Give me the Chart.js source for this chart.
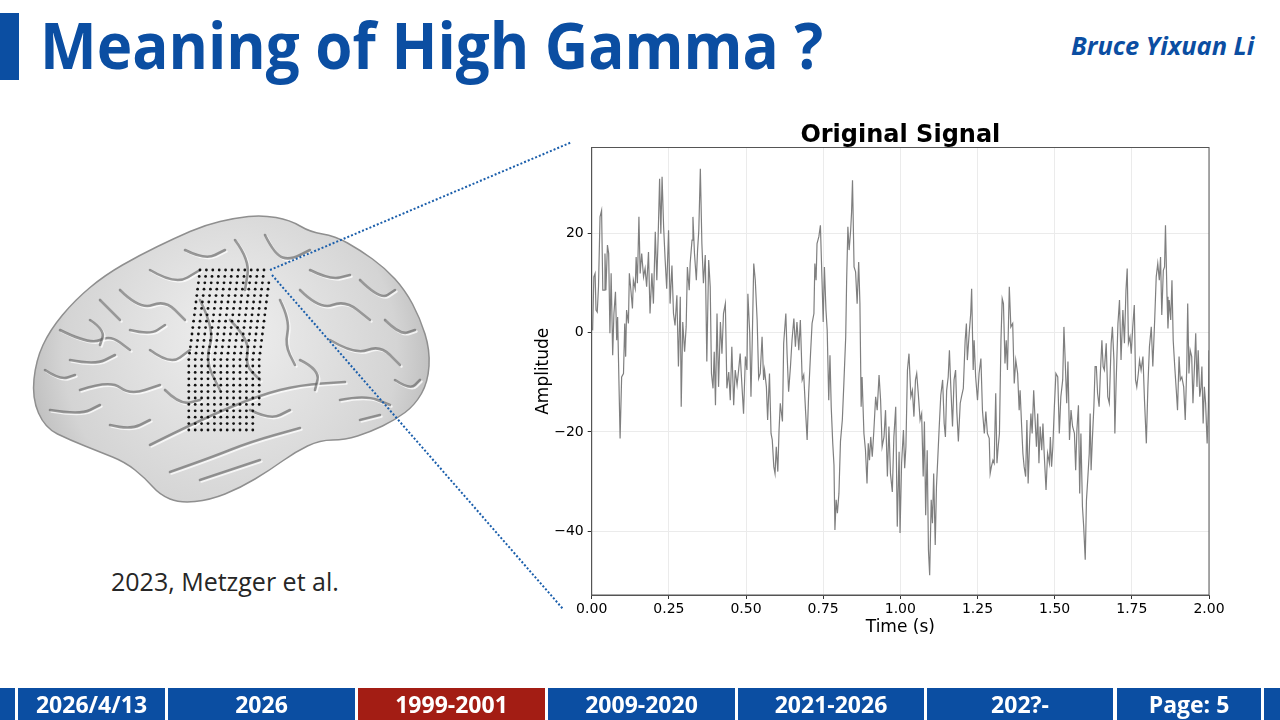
<!DOCTYPE html>
<html lang="en">
  <head>
    <meta charset="UTF-8" />
    <meta name="viewport" content="width=device-width, initial-scale=1.0" />
    <title>Meaning of High Gamma ?</title>
    <script src="https://cdn.jsdelivr.net/npm/chart.js@4.4.1/dist/chart.umd.min.js"></script>
    <style>
      body { margin: 0; width: 1280px; height: 720px; overflow: hidden; background: #fff; position: relative; font-family: "Open Sans", sans-serif; }
      .bar { position: absolute; left: 0; top: 13px; width: 19px; height: 67px; background: #0b4ea2; }
      .title { position: absolute; left: 40px; top: 12px; font-size: 65px; line-height: 1; font-weight: 700; color: #0b4ea2; white-space: nowrap; transform-origin: left top; }
      .author { position: absolute; right: 26px; top: 28px; font-size: 25px; line-height: 34px; font-weight: 700; font-style: italic; color: #0b4ea2; white-space: nowrap; transform-origin: right center; }
      .caption { position: absolute; left: 111px; top: 565px; font-size: 25px; line-height: 32px; color: #262626; white-space: nowrap; }
      #brain { position: absolute; left: 0; top: 0; }
      .chart-box { position: absolute; left: 520px; top: 100px; width: 720px; height: 545px; }
      #links { position: absolute; left: 0; top: 0; pointer-events: none; }
      .seg { position: absolute; top: 688px; height: 32px; line-height: 32px; background: #0b4ea2; color: #fff; font-weight: 700; font-size: 23px; text-align: center; white-space: nowrap; }
      .seg.red { background: #a31d14; }
    </style>
  </head>

  <body>
    <div class="bar"></div>
    <div class="title" id="title">Meaning of High Gamma ?</div>
    <div class="author" id="author">Bruce Yixuan Li</div>

    <canvas id="brain" width="520" height="560"></canvas>
    <div class="caption">2023, Metzger et al.</div>

    <div class="chart-box"><canvas id="signal_chart"></canvas></div>

    <svg id="links" width="1280" height="720">
      <line x1="270" y1="270" x2="572" y2="142" stroke="#1a5eab" stroke-width="2" stroke-dasharray="2 2" />
      <line x1="272" y1="275" x2="563" y2="609" stroke="#1a5eab" stroke-width="2" stroke-dasharray="2 2" />
    </svg>

    <div class="seg" style="left:0;width:15px"></div>
    <div class="seg" style="left:18px;width:147px">2026/4/13</div>
    <div class="seg" style="left:168px;width:187px">2026</div>
    <div class="seg red" style="left:358px;width:187px">1999-2001</div>
    <div class="seg" style="left:548px;width:187px">2009-2020</div>
    <div class="seg" style="left:738px;width:186px">2021-2026</div>
    <div class="seg" style="left:927px;width:186px">202?-</div>
    <div class="seg" style="left:1117px;width:144px">Page: 5</div>
    <div class="seg" style="left:1264px;width:16px"></div>

    <script>
      // signal (time in s, amplitude)
      const sampleTimes = [
        0.003,0.007,0.011,0.014,0.018,0.022,0.027,0.032,0.036,0.040,
        0.043,0.046,0.051,0.055,0.059,0.063,0.068,0.072,0.077,0.081,
        0.084,0.092,0.097,0.103,0.107,0.110,0.113,0.119,0.122,0.127,
        0.132,0.135,0.141,0.144,0.148,0.153,0.157,0.162,0.168,0.173,
        0.178,0.184,0.189,0.195,0.200,0.206,0.211,0.215,0.220,0.224,
        0.228,0.233,0.238,0.243,0.249,0.254,0.260,0.265,0.270,0.276,
        0.281,0.287,0.290,0.295,0.301,0.306,0.310,0.316,0.319,0.325,
        0.328,0.333,0.339,0.343,0.347,0.352,0.357,0.362,0.368,0.373,
        0.379,0.384,0.388,0.393,0.397,0.401,0.406,0.411,0.417,0.422,
        0.427,0.433,0.438,0.444,0.449,0.454,0.460,0.465,0.471,0.476,
        0.481,0.487,0.492,0.498,0.503,0.506,0.512,0.516,0.520,0.525,
        0.530,0.536,0.541,0.546,0.552,0.557,0.560,0.566,0.570,0.576,
        0.581,0.585,0.590,0.594,0.598,0.603,0.607,0.611,0.618,0.622,
        0.629,0.633,0.638,0.644,0.649,0.655,0.660,0.665,0.671,0.676,
        0.682,0.687,0.693,0.698,0.703,0.709,0.714,0.720,0.723,0.727,
        0.730,0.736,0.741,0.746,0.750,0.754,0.759,0.763,0.768,0.772,
        0.776,0.781,0.785,0.788,0.792,0.796,0.801,0.806,0.812,0.817,
        0.823,0.826,0.830,0.834,0.839,0.842,0.845,0.850,0.855,0.860,
        0.865,0.869,0.873,0.876,0.882,0.887,0.892,0.896,0.900,0.904,
        0.909,0.914,0.920,0.925,0.931,0.936,0.941,0.947,0.952,0.958,
        0.963,0.968,0.974,0.979,0.985,0.990,0.996,0.999,1.004,1.010,
        1.014,1.018,1.023,1.028,1.034,1.039,1.044,1.049,1.053,1.058,
        1.064,1.069,1.074,1.078,1.082,1.087,1.091,1.095,1.100,1.104,
        1.108,1.113,1.117,1.121,1.126,1.131,1.137,1.142,1.146,1.150,
        1.155,1.159,1.163,1.169,1.174,1.179,1.183,1.188,1.194,1.198,
        1.204,1.210,1.214,1.217,1.223,1.228,1.231,1.236,1.239,1.244,
        1.250,1.255,1.261,1.266,1.272,1.277,1.282,1.288,1.291,1.295,
        1.300,1.304,1.309,1.313,1.317,1.321,1.326,1.330,1.334,1.339,
        1.343,1.347,1.353,1.358,
        1.364,1.369,1.374,1.380,1.385,1.388,1.393,1.397,1.401,1.406,
        1.410,1.414,1.419,1.423,1.427,1.432,1.436,1.441,1.445,1.449,
        1.453,1.458,1.462,1.466,1.472,1.477,1.483,1.486,1.490,1.494,
        1.499,1.504,1.510,1.515,1.520,1.526,1.530,1.534,1.539,1.543,
        1.548,1.553,1.558,1.564,1.568,1.572,1.577,1.581,1.585,1.590,
        1.594,1.599,1.603,1.607,1.612,1.615,1.618,1.622,1.627,1.631,
        1.635,1.639,1.644,1.648,1.653,1.657,1.661,1.667,1.672,1.677,
        1.683,1.687,1.692,1.695,1.699,1.705,1.710,1.715,1.721,1.726,
        1.731,1.735,1.739,1.744,1.748,1.753,1.758,1.762,1.766,1.771,
        1.775,1.780,1.786,1.791,1.797,1.802,1.807,1.813,1.818,1.824,
        1.829,1.834,1.839,1.843,1.847,1.852,1.856,1.859,1.864,1.867,
        1.871,1.876,1.880,1.884,1.889,1.894,1.898,1.903,1.907,1.912,
        1.918,1.923,1.928,1.931,1.935,1.939,1.944,1.948,1.952,1.957,
        1.961,1.965,1.970,1.974,1.977,1.981,1.985,1.989,1.994,1.998,
        2.000
      ];
      const amplitude = [
        0.5,11.3,12.0,4.6,4.2,9.3,23.4,24.7,8.6,8.6,
        16.0,8.6,17.7,16.0,-0.1,12.0,-4.5,3.9,8.3,-1.5,
        3.2,-21.3,-8.9,-8.2,1.9,-4.8,4.6,1.9,12.0,8.6,
        4.9,10.6,8.9,15.3,10.0,23.4,12.0,16.0,11.3,13.0,
        9.3,16.3,3.9,12.0,5.9,20.4,10.6,18.7,31.1,20.0,
        31.5,21.4,14.7,8.9,20.7,5.9,13.6,3.9,1.5,7.6,
        -6.8,7.3,-14.9,2.2,-3.8,1.2,13.3,8.6,14.0,18.7,
        23.4,16.0,10.6,16.7,20.7,33.1,18.0,10.0,15.7,-5.8,
        14.7,9.3,-8.2,-11.2,-3.8,-14.6,3.9,-10.9,2.2,-4.2,
        3.9,5.9,-11.2,-7.9,-13.6,-2.8,-14.6,-7.5,-10.5,-7.5,
        -4.2,-10.9,-16.3,-4.8,-7.5,7.9,-0.1,-12.9,-2.1,14.0,
        10.6,2.6,-9.2,-8.2,-0.8,-9.5,-7.5,-10.9,-17.6,-8.2,
        -20.3,-21.6,-27.0,-28.4,-23.0,-28.0,-19.6,-14.2,-17.9,-2.1,
        3.9,-4.2,-11.9,-6.8,-1.5,2.9,-2.8,2.2,-3.5,2.6,
        -9.5,-8.5,-15.9,-21.6,-12.2,-4.2,1.9,3.9,14.0,10.6,
        18.0,19.4,21.7,11.0,2.2,13.3,4.6,0.5,-13.6,-4.5,
        -14.9,-22.3,-26.7,-39.8,-33.7,-36.4,-32.4,-21.9,-17.6,-10.2,
        -0.8,10.6,21.4,16.7,20.7,24.4,30.8,13.3,12.3,5.9,
        14.3,5.9,-14.9,-8.9,-20.3,-23.7,-30.4,-22.3,-25.7,-21.0,
        -25.0,-19.9,-12.9,-15.6,-8.5,-13.6,-23.0,-21.0,-15.6,-29.0,
        -18.9,-28.4,-32.1,-21.0,-14.9,-39.1,-24.0,-40.4,-26.3,-19.6,
        -27.3,-23.0,-7.5,-4.2,-12.9,-11.6,-16.9,-9.5,-8.2,-12.2,
        -17.6,-16.3,-29.0,-17.9,-36.8,-23.7,-43.8,-48.9,-33.7,-38.4,
        -28.4,-42.8,-31.0,-25.7,-18.9,-12.6,-9.5,-18.3,-21.0,-11.6,
        -8.9,-3.5,-10.2,-18.9,-9.5,-7.5,-15.9,-21.9,-14.2,-12.9,
        -11.2,-1.5,1.9,-5.5,-0.1,3.9,8.9,-7.5,-1.5,-8.9,
        -13.6,-8.2,-5.2,-15.6,-20.3,-15.9,-20.3,-21.3,-28.4,-27.0,
        -25.7,-26.3,-12.2,-26.3,-23.0,-20.3,-1.5,6.9,5.9,-6.2,
        -1.5,-7.5,9.3,1.2,
        1.9,-10.2,-5.5,-8.2,-15.6,-11.6,-18.9,-24.3,-27.0,-29.0,
        -17.6,-30.4,-21.6,-16.3,-20.3,-11.6,-16.9,-23.0,-16.3,-26.3,
        -18.9,-23.7,-18.3,-24.3,-31.7,-24.3,-26.3,-21.0,-27.0,-23.0,
        -14.9,-8.2,-8.9,-20.3,-12.9,-9.5,1.2,-5.5,-14.2,-5.8,
        -21.6,-15.6,-18.9,-20.3,-27.7,-19.6,-14.6,-32.4,-20.3,-35.1,
        -39.1,-45.8,-33.7,-29.7,-24.3,-16.3,-27.7,-21.6,-14.9,-6.8,
        -6.8,-12.2,-14.9,-8.2,-1.5,-6.8,-7.5,-2.1,-12.9,-14.2,
        -2.1,1.2,-5.5,-20.3,-10.2,1.9,6.6,-5.5,4.6,-2.1,
        8.6,13.0,-2.1,-0.8,-4.2,1.2,5.6,-9.5,-10.9,-8.2,
        -5.5,-7.5,-4.8,-13.6,-22.3,-10.9,-2.8,1.2,-6.8,2.6,
        11.3,14.0,10.6,15.3,3.6,12.6,13.3,21.7,7.3,0.9,
        6.6,2.6,10.6,-1.5,-6.8,-11.6,-15.6,-4.8,-9.5,-8.9,
        -10.9,-17.6,-6.8,5.9,-8.2,-3.5,-4.8,-14.2,-8.2,-0.1,
        -10.9,-3.5,-12.9,-10.9,-6.8,-18.3,-10.9,-14.2,-22.3,-14.9,
        -3.5
      ];
      const xTicks = [0, 0.25, 0.5, 0.75, 1.0, 1.25, 1.5, 1.75, 2.0];
      const yTicks = [-40, -20, 0, 20];
      const xRange = [0, 2];
      const yRange = [-52.9, 37.4];

      // fit the headline and the author name to their widths in the slide
      const titleEl = document.getElementById("title");
      titleEl.style.transform = "scaleX(" + (783 / titleEl.scrollWidth) + ")";
      const authorEl = document.getElementById("author");
      authorEl.style.transform = "scaleX(" + (183 / authorEl.scrollWidth) + ")";

      // plot frame + bold title over the plot area
      const framePlugin = {
        id: "frame",
        afterDraw(chart) {
          const a = chart.chartArea, c = chart.ctx;
          c.save();
          c.strokeStyle = "#555";
          c.lineWidth = 1;
          c.strokeRect(a.left, a.top, a.right - a.left, a.bottom - a.top);
          c.fillStyle = "#000";
          c.font = "bold 24px 'DejaVu Sans'";
          c.textAlign = "center";
          c.textBaseline = "alphabetic";
          c.fillText("Original Signal", (a.left + a.right) / 2, 42);
          c.restore();
        }
      };

      const tickFont = { family: "DejaVu Sans", size: 14 };
      const labelFont = { family: "DejaVu Sans", size: 17 };

      new Chart("signal_chart", {
        type: "line",
        data: {
          datasets: [
            {
              label: "Original Signal",
              data: sampleTimes.map((t, i) => ({ x: t, y: amplitude[i] })),
              borderColor: "#7f7f7f",
              borderWidth: 1.2,
              pointRadius: 0,
              tension: 0,
              fill: false
            }
          ]
        },
        options: {
          animation: false,
          responsive: true,
          maintainAspectRatio: false,
          layout: { padding: { top: 47.5, right: 31, left: 0, bottom: 0 } },
          plugins: { legend: { display: false }, tooltip: { enabled: false } },
          scales: {
            x: {
              type: "linear",
              min: xRange[0],
              max: xRange[1],
              afterBuildTicks: s => { s.ticks = xTicks.map(v => ({ value: v })); },
              afterFit: s => { s.height = 50; },
              grid: { color: "#ebebeb", tickColor: "#333", tickLength: 4 },
              border: { color: "#555" },
              ticks: { color: "#000", font: tickFont, padding: 2, maxRotation: 0, autoSkip: false, callback: v => v.toFixed(2) },
              title: { display: true, text: "Time (s)", color: "#000", font: labelFont, padding: { top: 0, bottom: 7 } }
            },
            y: {
              min: yRange[0],
              max: yRange[1],
              afterBuildTicks: s => { s.ticks = yTicks.map(v => ({ value: v })); },
              afterFit: s => { s.width = 71.7; },
              grid: { color: "#ebebeb", tickColor: "#333", tickLength: 4 },
              border: { color: "#555" },
              ticks: { color: "#000", font: tickFont, padding: 4, callback: v => String(v).replace("-", "\u2212") },
              title: { display: true, text: "Amplitude", color: "#000", font: labelFont, padding: { top: 13, bottom: 0 } }
            }
          }
        },
        plugins: [framePlugin]
      });

      // rough brain sketch with the electrode grid (slide decoration)
      const bc = document.getElementById("brain").getContext("2d");
      const outline = [[32,398],[36,360],[50,330],[75,300],[105,275],[140,255],[175,238],[205,225],[235,218],[262,215],[290,220],[310,232],[335,236],[360,250],[385,268],[405,290],[420,318],[430,350],[428,382],[415,405],[395,420],[370,432],[345,440],[320,440],[295,452],[270,470],[240,488],[210,500],[180,503],[160,495],[145,478],[125,462],[100,452],[70,440],[45,428]];
      function smoothPath(ctx, pts, closed) {
        ctx.beginPath();
        const n = pts.length;
        const mid = (a, b) => [(a[0] + b[0]) / 2, (a[1] + b[1]) / 2];
        if (closed) {
          const m0 = mid(pts[n - 1], pts[0]);
          ctx.moveTo(m0[0], m0[1]);
          for (let i = 0; i < n; i++) {
            const m = mid(pts[i], pts[(i + 1) % n]);
            ctx.quadraticCurveTo(pts[i][0], pts[i][1], m[0], m[1]);
          }
          ctx.closePath();
        } else {
          ctx.moveTo(pts[0][0], pts[0][1]);
          for (let i = 1; i < n - 1; i++) {
            const m = mid(pts[i], pts[i + 1]);
            ctx.quadraticCurveTo(pts[i][0], pts[i][1], m[0], m[1]);
          }
          ctx.lineTo(pts[n - 1][0], pts[n - 1][1]);
        }
      }
      const grad = bc.createRadialGradient(230, 330, 20, 230, 360, 230);
      grad.addColorStop(0, "#ececec");
      grad.addColorStop(0.7, "#d4d4d4");
      grad.addColorStop(1, "#b0b0b0");
      smoothPath(bc, outline, true);
      bc.fillStyle = grad;
      bc.fill();
      bc.strokeStyle = "#8f8f8f";
      bc.lineWidth = 1.5;
      bc.stroke();

      const sulci = [
        [[60,330],[90,345],[110,335],[130,350]],
        [[80,390],[110,380],[130,395],[160,385]],
        [[50,410],[80,415],[100,405]],
        [[120,290],[140,310],[165,300],[185,320]],
        [[150,270],[175,285],[200,270]],
        [[200,300],[215,330],[205,360],[220,390]],
        [[235,240],[250,260],[245,290]],
        [[265,235],[275,255],[290,260],[310,250]],
        [[300,290],[320,310],[345,300],[370,320]],
        [[330,340],[355,355],[380,345],[400,365]],
        [[360,280],[380,300],[395,290]],
        [[340,400],[365,395],[390,405]],
        [[150,445],[200,420],[260,395],[300,385],[345,382]],
        [[170,472],[210,458],[250,442],[300,428]],
        [[100,300],[120,320]],
        [[150,350],[170,365],[190,350]],
        [[70,360],[95,365],[115,355]],
        [[230,320],[250,340],[245,365],[260,380]],
        [[45,370],[60,380],[75,375]],
        [[90,320],[105,330],[100,345]],
        [[130,330],[150,335],[165,325]],
        [[165,390],[180,405],[200,400]],
        [[110,425],[130,430],[150,420]],
        [[280,300],[290,320],[285,345],[295,365]],
        [[310,270],[330,280],[350,275]],
        [[385,320],[400,335],[415,330]],
        [[395,380],[410,390],[420,380]],
        [[300,360],[320,370],[315,390]],
        [[200,480],[230,470],[260,460]],
        [[185,250],[205,260],[225,250]],
        [[250,410],[270,420],[290,410]],
        [[360,420],[380,415]]
      ];
      bc.lineCap = "round";
      bc.lineJoin = "round";
      sulci.forEach(s => {
        bc.save();
        bc.translate(1.5, 1.5);
        smoothPath(bc, s, false);
        bc.strokeStyle = "rgba(255,255,255,0.75)";
        bc.lineWidth = 2.5;
        bc.stroke();
        bc.restore();
        smoothPath(bc, s, false);
        bc.strokeStyle = "rgba(90,90,90,0.6)";
        bc.lineWidth = 2.6;
        bc.stroke();
      });

      bc.fillStyle = "#111";
      for (let r = 0; r < 26; r++) {
        const y = 270 + r * 6.4;
        const x0 = 200 - Math.min(r, 14) * 0.8;
        const x1 = 270 - r * 0.5;
        for (let x = x0; x <= x1; x += 6.4) {
          bc.beginPath();
          bc.arc(x, y, 1.4, 0, Math.PI * 2);
          bc.fill();
        }
      }
    </script>
  </body>
</html>
